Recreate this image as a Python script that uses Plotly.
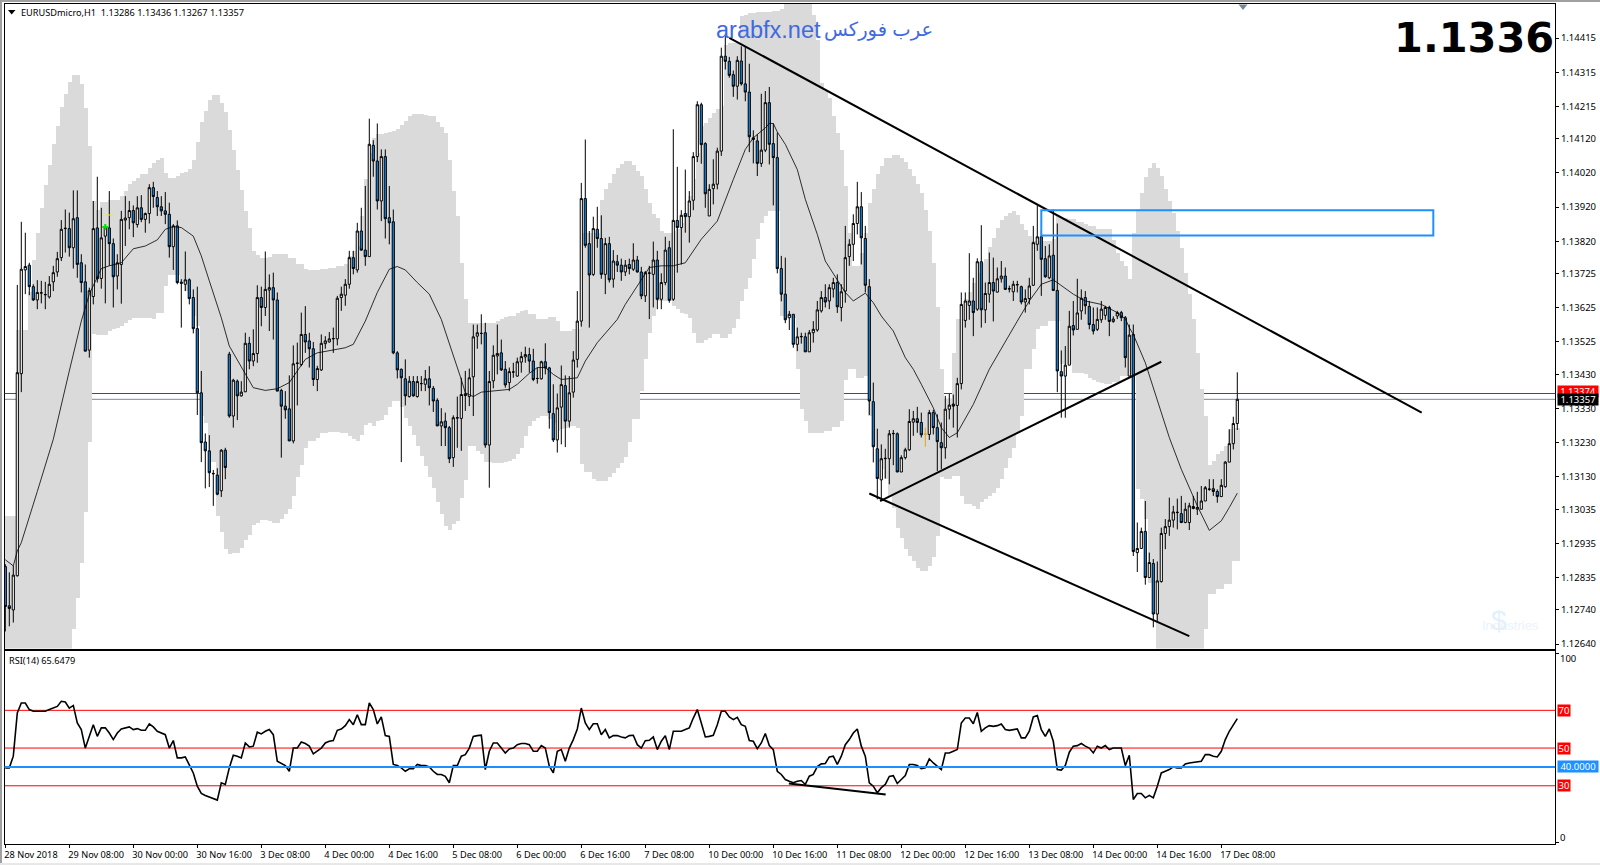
import plotly.graph_objects as go

W, H = 1600, 867

# ---- price data, in 1e-5 price points, one entry per hourly bar ----
opens = [
112867,112752,112740,112840,113432,113736,113750,113687,113648,113668,
113663,113657,113701,113730,113772,113857,113857,113801,113889,113757,
113701,113501,113658,113859,113711,113835,113859,113813,113718,113752,
113882,113889,113910,113869,113918,113884,113901,113977,113948,113921,
113909,113899,113804,113865,113700,113694,113707,113655,113564,113376,
113232,113206,113140,113135,113089,113208,113489,113308,113410,113367,
113379,113521,113469,113491,113655,113626,113677,113684,113648,113383,
113337,113329,113235,113462,113459,113547,113528,113505,113415,113443,
113520,113525,113534,113534,113655,113662,113694,113772,113736,113850,
113794,113775,114101,114055,113938,114068,113889,113877,113493,113445,
113417,113365,113409,113365,113403,113401,113417,113389,113354,113279,
113293,113274,113186,113302,113301,113373,113365,113423,113542,113550,
113552,113223,113411,113484,113493,113445,113406,113437,113425,113466,
113481,113488,113469,113418,113417,113467,113449,113315,113238,113334,
113397,113293,113378,113474,113586,113945,113813,113723,113855,113828,
113723,113813,113709,113760,113750,113730,113752,113738,113765,113730,
113660,113726,113723,113765,113650,113699,113801,113650,113881,113860,
113901,113892,113940,114068,114220,114106,113894,113974,113987,114084,
114362,114347,114308,114274,114348,114281,114257,114123,114114,114048,
114087,114226,114106,114065,113740,113665,113596,113606,113518,113540,
113540,113496,113552,113560,113616,113655,113645,113680,113699,113626,
113674,113775,113811,113872,113921,113828,113687,113350,113212,113121,
113183,113183,113256,113256,113144,113186,113209,113290,113300,113289,
113254,113254,113318,113274,113230,113215,113328,113343,113339,113403,
113588,113632,113645,113621,113760,113619,113665,113699,113671,113710,
113718,113680,113672,113692,113687,113642,113652,113691,113811,113833,
113769,113713,113779,113676,113438,113425,113457,113573,113562,113616,
113655,113629,113576,113562,113590,113603,113626,113585,113601,113611,
113596,113425,113547,112908,112920,112970,112835,112876,112728,112823,
112964,112984,113003,113025,113022,112996,112996,113043,113035,113035,
113059,113093,113095,113087,113072,113101,113173,113227,113286]
closes = [
112750,112744,112842,113435,113738,113746,113687,113648,113670,113669,
113664,113694,113728,113769,113855,113858,113801,113886,113752,113699,
113498,113675,113857,113710,113830,113859,113813,113716,113757,113884,
113888,113910,113874,113918,113884,113901,113977,113951,113921,113909,
113899,113804,113865,113699,113697,113707,113652,113564,113376,113230,
113206,113142,113139,113079,113208,113157,113308,113413,113367,113378,
113521,113469,113491,113655,113626,113679,113684,113648,113381,113337,
113326,113235,113461,113463,113547,113525,113505,113415,113447,113521,
113528,113534,113535,113653,113665,113694,113772,113740,113850,113794,
113775,114104,114055,113938,114068,113886,113874,113493,113443,113420,
113367,113410,113367,113409,113403,113417,113391,113352,113279,113291,
113274,113183,113303,113303,113371,113368,113420,113540,113552,113550,
113223,113409,113486,113491,113443,113399,113438,113437,113467,113482,
113488,113469,113415,113418,113467,113449,113318,113238,113332,113400,
113293,113376,113472,113586,113945,113808,113721,113857,113828,113723,
113813,113707,113762,113750,113730,113750,113740,113765,113730,113660,
113728,113727,113765,113650,113699,113794,113647,113881,113860,113896,
113892,113938,114068,114220,114103,113959,113972,113987,114084,114362,
114347,114306,114274,114350,114281,114257,114126,114118,114048,114087,
114226,114104,114065,113740,113665,113590,113606,113518,113540,113541,
113496,113552,113562,113619,113655,113642,113684,113699,113628,113672,
113772,113811,113872,113921,113830,113691,113352,113218,113125,113183,
113184,113256,113257,113144,113186,113209,113292,113300,113289,113253,
113255,113318,113274,113233,113215,113328,113340,113337,113403,113635,
113645,113645,113611,113760,113619,113667,113699,113674,113710,113718,
113679,113681,113694,113693,113642,113652,113689,113816,113833,113767,
113716,113777,113676,113440,113425,113457,113571,113560,113610,113653,
113631,113576,113557,113591,113621,113626,113585,113592,113611,113596,
113479,113545,112911,112920,112970,112835,112879,112728,112825,112964,
112984,113003,113027,113026,112996,113035,113045,113037,113040,113059,
113098,113094,113087,113072,113105,113173,113227,113286,113357]
highs = [
112874,112850,112869,113692,113877,113845,113757,113694,113706,113704,
113701,113718,113748,113789,113882,113913,113904,113969,113969,113782,
113752,113684,113938,114009,113918,113865,113967,113828,113782,113909,
113952,113938,113925,113952,113955,113904,113987,113994,113967,113952,
113964,113933,113870,113881,113709,113790,113711,113679,113687,113440,
113257,113252,113150,113155,113211,113215,113496,113417,113415,113410,
113552,113540,113562,113691,113687,113790,113723,113728,113670,113388,
113381,113427,113515,113523,113611,113630,113552,113525,113455,113547,
113542,113554,113567,113660,113687,113709,113792,113792,113874,113918,
113982,114179,114116,114165,114089,114089,113982,113913,113498,113447,
113474,113425,113425,113425,113425,113443,113454,113396,113360,113331,
113318,113279,113310,113365,113420,113440,113447,113576,113576,113606,
113581,113440,113515,113576,113532,113469,113450,113464,113479,113496,
113511,113508,113505,113450,113470,113521,113452,113401,113374,113456,
113427,113425,113498,113674,113991,114118,113850,113892,113921,113896,
113830,113833,113794,113780,113769,113765,113769,113814,113777,113745,
113733,113748,113819,113792,113726,113833,113821,114148,114038,113911,
114030,113967,114081,114230,114226,114110,113987,114060,114094,114387,
114423,114360,114320,114362,114391,114391,114340,114145,114133,114252,
114260,114272,114165,114138,113777,113772,113616,113606,113567,113552,
113552,113560,113586,113645,113674,113694,113694,113713,113723,113694,
113865,113826,113899,113994,113964,113865,113709,113406,113271,113225,
113212,113267,113267,113260,113193,113215,113328,113323,113335,113318,
113274,113326,113326,113313,113289,113367,113373,113371,113420,113670,
113670,113785,113713,113770,113867,113699,113787,113772,113743,113762,
113743,113690,113704,113704,113690,113679,113713,113865,113925,113850,
113806,113811,113913,113872,113500,113513,113616,113645,113710,113679,
113674,113645,113626,113626,113645,113631,113631,113600,113616,113616,
113601,113576,113576,112996,112981,113059,112908,112889,112882,112981,
113006,113069,113045,113066,113074,113054,113054,113074,113086,113103,
113103,113123,113123,113093,113123,113176,113269,113306,113436]
lows = [
112677,112692,112703,112838,113378,113665,113662,113645,113621,113638,
113621,113652,113674,113716,113762,113787,113775,113740,113713,113670,
113498,113479,113635,113699,113681,113638,113748,113626,113679,113637,
113806,113855,113832,113860,113876,113845,113872,113918,113894,113894,
113870,113772,113736,113694,113567,113674,113635,113550,113311,113173,
113096,113100,113045,113076,113071,113123,113303,113274,113296,113365,
113378,113445,113454,113464,113571,113601,113557,113532,113381,113186,
113300,113235,113228,113339,113454,113493,113450,113396,113381,113440,
113505,113523,113493,113515,113616,113631,113681,113723,113728,113792,
113748,113775,114009,113913,113879,113828,113811,113489,113418,113173,
113339,113362,113365,113362,113381,113381,113339,113320,113279,113220,
113220,113170,113159,113215,113206,113323,113337,113308,113505,113518,
113215,113098,113389,113430,113440,113391,113381,113420,113423,113435,
113464,113435,113410,113403,113415,113430,113271,113232,113201,113225,
113217,113274,113362,113450,113570,113801,113567,113718,113801,113710,
113665,113699,113684,113730,113704,113718,113723,113733,113728,113650,
113642,113592,113626,113621,113621,113691,113640,113645,113728,113752,
113845,113816,113911,114052,114047,113918,113894,113928,113972,114070,
114323,114299,114243,114235,114276,114230,114081,114048,114011,114038,
114081,114045,113925,113726,113644,113580,113560,113508,113498,113520,
113496,113496,113523,113555,113611,113626,113621,113655,113610,113585,
113640,113748,113762,113840,113752,113670,113311,113172,113064,113059,
113125,113108,113164,113144,113144,113181,113206,113250,113259,113245,
113218,113238,113254,113147,113152,113183,113298,113274,113245,113386,
113567,113590,113542,113616,113567,113580,113640,113585,113670,113699,
113677,113670,113645,113670,113635,113611,113635,113689,113792,113660,
113713,113709,113674,113378,113303,113303,113457,113544,113562,113590,
113606,113562,113547,113557,113581,113590,113542,113581,113592,113586,
113450,113425,112898,112851,112920,112814,112835,112689,112708,112820,
112918,112957,112981,112976,112994,112994,112974,113035,113018,113035,
113059,113089,113074,113054,113072,113098,113173,113210,113267]

# grey envelope, one entry per bar
band_upper = [
113015,113015,113015,113559,113559,113559,113670,113764,113845,113918,
113985,114043,114104,114157,114213,114252,114286,114306,114306,114282,
114211,114099,113938,113911,113936,113936,113940,113940,113940,113952,
113967,113989,113996,114006,114016,114016,114035,114050,114057,114063,
114021,114004,114004,114011,114019,114024,114032,114057,114110,114170,
114201,114233,114247,114247,114226,114199,114146,114087,114030,113970,
113908,113858,113790,113780,113772,113772,113774,113784,113784,113782,
113782,113772,113772,113752,113752,113738,113735,113735,113735,113738,
113738,113742,113742,113748,113748,113752,113777,113792,113806,113894,
114001,114079,114123,114135,114135,114138,114141,114143,114148,114162,
114172,114187,114193,114193,114194,114191,114187,114187,114169,114155,
114138,114057,113967,113894,113755,113650,113581,113581,113581,113581,
113581,113581,113581,113585,113593,113597,113601,113601,113611,113616,
113618,113606,113606,113593,113593,113593,113599,113599,113586,113557,
113557,113557,113562,113562,113845,113845,113845,113845,113845,113940,
113974,113991,114016,114035,114045,114055,114055,114043,114026,114011,
113972,113931,113899,113889,113850,113845,113845,113850,113855,113874,
113904,113952,114001,114079,114157,114167,114182,114196,114206,114216,
114396,114401,114401,114401,114479,114484,114489,114489,114491,114491,
114493,114493,114494,114494,114499,114516,114516,114516,114516,114516,
114516,114516,114484,114411,114284,114260,114240,114187,114138,114087,
113982,113845,113748,113748,113787,113845,113931,113972,114016,114040,
114063,114063,114072,114072,114065,114053,114033,114011,113987,113962,
113913,113850,113757,113626,113445,113357,113357,113493,113591,113591,
113650,113670,113699,113728,113757,113767,113804,113831,113860,113882,
113894,113904,113909,113896,113872,113853,113835,113821,113821,113821,
113821,113821,113826,113894,113889,113889,113884,113884,113876,113876,
113870,113865,113865,113857,113857,113857,113857,113824,113787,113762,
113748,113709,113845,113915,113960,114009,114035,114048,114035,114011,
113972,113938,113904,113850,113801,113728,113665,113591,113493,113388,
113308,113164,113176,113196,113206,113220,113269,113274,113274]
band_lower = [
112600,112600,112600,112600,112600,112600,112600,112600,112600,112600,
112600,112600,112600,112600,112600,112600,112600,112684,112776,112877,
113027,113232,113547,113545,113545,113545,113557,113562,113567,113573,
113581,113588,113596,113596,113596,113596,113596,113593,113609,113609,
113689,113720,113720,113720,113699,113674,113655,113601,113571,113308,
113287,113172,113172,113015,112967,112918,112903,112908,112908,112920,
112945,112959,112988,112996,113003,113003,113001,112996,112996,113006,
113020,113035,113074,113128,113164,113215,113235,113235,113245,113257,
113257,113262,113262,113262,113257,113257,113250,113242,113235,113253,
113281,113289,113279,113293,113295,113311,113335,113352,113352,113335,
113303,113279,113252,113220,113191,113162,113128,113098,113056,113020,
112986,112974,112991,113001,113069,113121,113220,113220,113206,113196,
113173,113172,113170,113170,113170,113172,113176,113181,113196,113215,
113250,113279,113293,113303,113308,113308,113298,113289,113264,113269,
113274,113279,113279,113274,113167,113145,113145,113125,113118,113118,
113118,113128,113142,113157,113170,113189,113232,113300,113300,113381,
113474,113550,113601,113645,113645,113645,113645,113631,113621,113611,
113606,113596,113552,113523,113521,113532,113537,113547,113547,113537,
113537,113547,113567,113591,113645,113679,113713,113767,113826,113874,
113894,113909,113909,113909,113601,113596,113596,113596,113445,113328,
113293,113259,113259,113259,113259,113264,113264,113277,113277,113293,
113415,113445,113445,113420,113420,113425,113308,113220,113172,113152,
113123,113074,113040,112981,112952,112918,112898,112884,112864,112853,
112853,112869,112896,112957,113128,113123,113123,113132,113132,113074,
113050,113050,113045,113037,113056,113066,113074,113082,113098,113123,
113157,113186,113215,113259,113308,113445,113445,113503,113562,113571,
113571,113586,113586,113586,113459,113459,113459,113435,113435,113435,
113430,113420,113415,113408,113406,113403,113403,113408,113408,113425,
113425,113430,113430,113094,113064,113006,112820,112820,112600,112600,
112600,112600,112600,112600,112600,112600,112600,112600,112600,112600,
112684,112786,112786,112801,112801,112815,112815,112884,112884]

# thin moving average, read at the bars listed
ma_bars = [0,2,3,4,8,12,16,19,21,24,26,29,32,35,38,40,42,44,47,49,51,54,56,59,62,65,68,71,75,78,82,85,87,90,93,96,98,100,103,
106,109,110,112,114,115,117,119,122,126,128,131,133,135,137,139,143,145,148,151,153,155,158,161,164,167,170,172,174,178,180,182,185,187,190,191,192,193,195,198,200,203,205,208,
210,212,215,217,219,220,222,225,227,229,232,234,236,238,242,246,250,253,256,259,262,264,267,270,274,278,280,281,282,285,288,291,294,298,301,304,306,308]
ma_values = [112887,112869,112913,112937,113087,113240,113440,113586,113665,113740,113748,113757,113798,113806,113824,113855,113863,113860,113835,113777,113704,113596,113513,113450,113391,113383,113388,113406,113474,113493,113501,113508,113518,113586,113670,113738,113746,113736,113699,
113665,113591,113557,113489,113415,113376,113365,113378,113381,113386,113401,113433,113450,113450,113430,113415,113420,113469,113523,113562,113591,113635,113689,113743,113748,113748,113757,113791,113826,113879,113943,114001,114089,114123,114152,114165,114165,114140,114104,114030,113943,113840,113762,113709,
113670,113645,113668,113640,113601,113586,113557,113479,113445,113401,113332,113274,113245,113259,113342,113445,113528,113586,113645,113694,113707,113691,113665,113645,113635,113611,113593,113567,113547,113464,113352,113245,113152,113045,112973,113001,113040,113082]

# RSI(14), one entry per bar
rsi_values = [
39.5,39.5,45.7,68.6,73.9,73.9,70.4,69.5,69.5,69.5,
69.5,70.4,71.2,72.1,74.8,74.4,71.2,72.6,63.3,59.8,
50.0,56.2,62.4,56.2,60.7,60.7,58.0,54.5,58.0,60.1,
60.7,61.2,59.8,60.3,59.4,59.4,62.8,61.2,58.9,58.0,
57.1,50.0,54.0,44.8,44.8,45.3,41.3,36.8,29.8,25.9,
24.9,24.1,23.3,22.4,31.6,30.7,39.5,46.2,45.7,44.8,
52.7,50.6,51.0,58.4,57.5,58.9,59.8,57.1,43.0,41.8,
40.7,37.7,50.0,50.0,53.2,52.4,51.0,46.9,48.7,50.0,
52.7,53.6,54.0,59.4,60.1,61.9,65.1,62.4,67.7,62.4,
62.4,73.9,70.4,62.8,66.5,56.6,56.2,41.3,40.7,39.5,
37.7,39.0,39.0,41.3,40.7,40.7,40.0,37.7,36.0,36.0,
35.0,31.6,40.7,40.7,45.7,46.5,50.0,56.2,56.6,56.8,
38.6,48.3,52.7,52.7,50.0,47.4,49.5,50.0,51.8,52.4,
52.4,51.8,48.3,48.3,51.3,50.0,40.4,36.8,48.3,49.2,
43.0,50.0,54.5,60.1,71.2,63.3,59.8,62.9,62.9,57.1,
59.8,55.4,56.6,56.6,55.9,55.4,56.6,56.8,51.8,50.0,
53.9,54.1,55.9,49.2,53.6,56.6,49.2,58.9,58.9,58.9,
59.8,60.7,65.9,70.4,63.3,55.9,56.2,56.8,62.4,69.5,
69.5,66.5,65.1,66.3,62.4,61.5,54.0,53.6,49.7,52.7,
57.7,51.3,49.2,37.7,36.0,33.3,32.4,31.6,32.4,32.8,
30.7,35.1,36.0,40.2,41.6,41.8,45.3,45.7,41.3,45.7,
51.8,54.5,58.0,60.1,51.0,45.7,31.6,29.8,26.3,29.0,
30.7,35.0,35.4,31.2,33.3,35.4,41.3,41.3,40.7,39.1,
39.5,44.3,42.1,40.2,38.6,47.4,47.4,48.3,49.2,63.3,
65.9,65.9,62.9,68.9,58.9,60.7,61.9,61.5,61.9,62.8,
59.8,59.4,59.8,60.1,55.4,55.4,58.9,66.5,67.2,59.8,
56.2,60.1,53.6,38.6,38.3,40.7,47.8,51.0,51.3,52.4,
51.0,50.0,47.4,51.0,50.0,51.3,49.2,50.0,50.0,50.0,
40.7,46.2,22.7,25.9,25.9,23.6,24.9,23.6,29.8,36.8,
37.7,38.6,40.0,39.5,39.5,41.6,42.1,42.5,42.5,43.0,
46.5,46.5,45.7,45.3,48.3,54.5,58.9,62.4,65.6]

# trend lines: [start bar, end bar], [start price, end price]
line_a_bars, line_a_prices = [181, 354.1], [114416, 113318]
line_b_bars, line_b_prices = [216, 296], [113081, 112663]
line_c_bars, line_c_prices = [218.7, 289], [113059, 113467]
rsi_line_bars, rsi_line_values = [195.9, 220.1], [31.2, 25.4]
zone_bars, zone_prices = [259, 357], [113837, 113911]

bid_level, ask_level = 1.13374, 1.13357
rsi_levels_red = [70, 50, 30]
rsi_level_blue = 40

price_ticks = [1.14415,1.14315,1.14215,1.14120,1.14020,1.13920,1.13820,1.13725,1.13625,1.13525,
               1.13430,1.13330,1.13230,1.13130,1.13035,1.12935,1.12835,1.12740,1.12640]
time_labels = ["28 Nov 2018","29 Nov 08:00","30 Nov 00:00","30 Nov 16:00","3 Dec 08:00","4 Dec 00:00",
               "4 Dec 16:00","5 Dec 08:00","6 Dec 00:00","6 Dec 16:00","7 Dec 08:00","10 Dec 00:00",
               "10 Dec 16:00","11 Dec 08:00","12 Dec 00:00","12 Dec 16:00","13 Dec 08:00","14 Dec 00:00",
               "14 Dec 16:00","17 Dec 08:00"]
time_ticks = [16 * k for k in range(len(time_labels))]

# ---- helpers ----
def px(x): return x / W
def py(y): return 1 - y / H
def pr(seq): return [v / 1e5 for v in seq]

FONT = "Noto Sans"
BLUE = "#1E90FF"
bars = list(range(len(opens)))
special = 230  # the one bar drawn in orange

fig = go.Figure()

fig.add_trace(go.Bar(x=bars, base=pr(band_lower),
                     y=[(u - l) / 1e5 for u, l in zip(band_upper, band_lower)],
                     width=1.03, marker=dict(color="#DADADA", line=dict(width=0)),
                     xaxis="x", yaxis="y", showlegend=False, hoverinfo="skip"))

keep = [i for i in bars if i != special]
fig.add_trace(go.Candlestick(
    x=keep, open=pr([opens[i] for i in keep]), high=pr([highs[i] for i in keep]),
    low=pr([lows[i] for i in keep]), close=pr([closes[i] for i in keep]),
    increasing=dict(line=dict(color="black", width=1), fillcolor="white"),
    decreasing=dict(line=dict(color="black", width=1), fillcolor="#1E84DC"),
    whiskerwidth=0, xaxis="x", yaxis="y", showlegend=False))
fig.add_trace(go.Candlestick(
    x=[special], open=pr([opens[special]]), high=pr([highs[special]]),
    low=pr([lows[special]]), close=pr([closes[special]]),
    increasing=dict(line=dict(color="#DAA520", width=1), fillcolor="#DAA520"),
    decreasing=dict(line=dict(color="#DAA520", width=1), fillcolor="#DAA520"),
    whiskerwidth=0, xaxis="x", yaxis="y", showlegend=False))

fig.add_trace(go.Scatter(x=ma_bars, y=pr(ma_values), mode="lines",
                         line=dict(color="black", width=0.8), xaxis="x", yaxis="y", showlegend=False))

for bx, by in [(line_a_bars, line_a_prices), (line_b_bars, line_b_prices), (line_c_bars, line_c_prices)]:
    fig.add_trace(go.Scatter(x=bx, y=pr(by), mode="lines", line=dict(color="black", width=2),
                             xaxis="x", yaxis="y", showlegend=False))

fig.add_trace(go.Scatter(x=[25], y=[1.13862], mode="markers",
                         marker=dict(symbol="cross", size=5, color="#00E000"),
                         xaxis="x", yaxis="y", showlegend=False))
fig.add_trace(go.Scatter(x=[25, 27], y=[1.13897, 1.13897], mode="lines",
                         line=dict(color="#F0E040", width=1), xaxis="x", yaxis="y", showlegend=False))

fig.add_trace(go.Scatter(x=bars, y=rsi_values, mode="lines", line=dict(color="black", width=1.6),
                         xaxis="x2", yaxis="y2", showlegend=False))
fig.add_trace(go.Scatter(x=rsi_line_bars, y=rsi_line_values, mode="lines", line=dict(color="black", width=2),
                         xaxis="x2", yaxis="y2", showlegend=False))

L, R = 4.5, 1555
xr = [(L - 5.3) / 4, (R - 5.3) / 4]
common_x = dict(range=xr, domain=[px(L), px(R)], showgrid=False, zeroline=False,
                showline=True, linecolor="black", linewidth=1, mirror=True)

shapes = [
    dict(type="line", xref="paper", yref="y", x0=px(L), x1=px(R), y0=bid_level, y1=bid_level,
         line=dict(color="#FF0000", width=1), layer="below"),
    dict(type="line", xref="paper", yref="y", x0=px(L), x1=px(R), y0=ask_level, y1=ask_level,
         line=dict(color="#778899", width=1), layer="below"),
    dict(type="rect", xref="x", yref="y", x0=zone_bars[0], x1=zone_bars[1],
         y0=zone_prices[0] / 1e5, y1=zone_prices[1] / 1e5, line=dict(color=BLUE, width=2),
         fillcolor="rgba(0,0,0,0)", layer="above"),
    dict(type="line", xref="paper", yref="y2", x0=px(L), x1=px(R), y0=rsi_level_blue, y1=rsi_level_blue,
         line=dict(color=BLUE, width=2), layer="above"),
    # window edges
    dict(type="rect", xref="paper", yref="paper", x0=0, x1=1, y0=py(2), y1=1,
         fillcolor="#A0A0A0", line=dict(width=0), layer="above"),
    dict(type="rect", xref="paper", yref="paper", x0=0, x1=px(2), y0=0, y1=1,
         fillcolor="#A0A0A0", line=dict(width=0), layer="above"),
    dict(type="rect", xref="paper", yref="paper", x0=0, x1=1, y0=0, y1=py(865),
         fillcolor="#E8E8E8", line=dict(width=0), layer="above"),
    # little triangles
    dict(type="path", xref="paper", yref="paper", layer="above", line=dict(width=0), fillcolor="black",
         path=f"M {px(8)} {py(10)} L {px(15.5)} {py(10)} L {px(11.7)} {py(14.5)} Z"),
    dict(type="path", xref="paper", yref="paper", layer="above", line=dict(width=0), fillcolor="#778899",
         path=f"M {px(1238.5)} {py(4.5)} L {px(1247.5)} {py(4.5)} L {px(1243)} {py(10)} Z"),
]
for lv in rsi_levels_red:
    shapes.append(dict(type="line", xref="paper", yref="y2", x0=px(L), x1=px(R), y0=lv, y1=lv,
                       line=dict(color="#FF0000", width=1), layer="below"))

small = dict(family=FONT, size=9.2, color="black")
axis_font = dict(family=FONT, size=9.5, color="black")
white = dict(family=FONT, size=9.5, color="white")
TAG_X = px(1557)
ann = [
    dict(xref="paper", yref="paper", x=px(18.5), y=py(12.5), text="EURUSDmicro,H1  1.13286 1.13436 1.13267 1.13357",
         xanchor="left", yanchor="middle", showarrow=False, font=small),
    dict(xref="paper", yref="paper", x=px(7), y=py(662), text="RSI(14) 65.6479",
         xanchor="left", yanchor="middle", showarrow=False, font=small),
    dict(xref="paper", yref="paper", x=px(714), y=py(30), text="arabfx.net",
         xanchor="left", yanchor="middle", showarrow=False,
         font=dict(family="Liberation Sans", size=23.5, color="#4169E1")),
    dict(xref="paper", yref="paper", x=px(935), y=py(30), text="عرب فوركس",
         xanchor="right", yanchor="middle", showarrow=False,
         font=dict(family="Liberation Sans, DejaVu Sans", size=19.5, color="#4169E1")),
    dict(xref="paper", yref="paper", x=px(1556), y=py(38), text="<b>1.1336</b>",
         xanchor="right", yanchor="middle", showarrow=False,
         font=dict(family="DejaVu Sans", size=41.5, color="black")),
    dict(xref="paper", yref="paper", x=px(1510), y=py(627), text="Industries",
         xanchor="center", yanchor="middle", showarrow=False,
         font=dict(family="Liberation Sans", size=13, color="#EAF3FC")),
    dict(xref="paper", yref="paper", x=px(1499), y=py(622), text="$",
         xanchor="center", yanchor="middle", showarrow=False,
         font=dict(family="Liberation Sans", size=28, color="#E4F0FB")),
    dict(xref="paper", yref="paper", x=px(1558), y=py(660), text="100", xanchor="left", yanchor="middle",
         showarrow=False, font=axis_font),
    dict(xref="paper", yref="paper", x=px(1558), y=py(839), text="0", xanchor="left", yanchor="middle",
         showarrow=False, font=axis_font),
    dict(xref="paper", yref="y", x=TAG_X, y=bid_level, yshift=2, text="1.13374", xanchor="left", yanchor="middle",
         showarrow=False, font=white, bgcolor="#FF0000", borderpad=0, width=40, height=11, align="center"),
    dict(xref="paper", yref="y", x=TAG_X, y=ask_level, text="1.13357", xanchor="left", yanchor="middle",
         showarrow=False, font=white, bgcolor="black", borderpad=0, width=40, height=11, align="center"),
    dict(xref="paper", yref="y2", x=TAG_X, y=rsi_level_blue, text="40.0000", xanchor="left", yanchor="middle",
         showarrow=False, font=white, bgcolor=BLUE, borderpad=0, width=40, height=11, align="center"),
]
for lv in rsi_levels_red:
    ann.append(dict(xref="paper", yref="y2", x=TAG_X, y=lv, text=str(lv), xanchor="left", yanchor="middle",
                    showarrow=False, font=white, bgcolor="#FF0000", borderpad=0, width=12, height=11, align="center"))

fig.update_layout(
    width=W, height=H, margin=dict(l=0, r=0, t=0, b=0), autosize=False,
    paper_bgcolor="white", plot_bgcolor="white", showlegend=False, hovermode=False,
    boxgap=0.22, bargap=0, barmode="overlay",
    shapes=shapes, annotations=ann,
    xaxis=dict(anchor="y", showticklabels=False, ticks="", rangeslider=dict(visible=False), **common_x),
    xaxis2=dict(anchor="y2", tickmode="array", tickvals=time_ticks, ticktext=time_labels,
                ticks="outside", ticklen=3, tickwidth=1, tickcolor="black",
                ticklabelposition="outside right", ticklabelstandoff=2, ticklabelshift=-2,
                tickfont=small, tickangle=0,
                rangeslider=dict(visible=False), **common_x),
    yaxis=dict(anchor="x", side="right", domain=[py(650), py(4)], range=[1.12627, 1.14515],
               tickmode="array", tickvals=price_ticks, ticktext=[f"{t:.5f}" for t in price_ticks],
               ticks="outside", ticklen=3, tickcolor="black", tickfont=axis_font, showgrid=False, zeroline=False,
               showline=True, linecolor="black", linewidth=1, mirror=True),
    yaxis2=dict(anchor="x2", side="right", domain=[py(846), py(653)], range=[-0.9, 101.2],
                tickmode="array", tickvals=[0, 100], ticktext=["", ""],
                ticks="outside", ticklen=3, tickcolor="black", tickfont=axis_font, showgrid=False, zeroline=False,
                showline=True, linecolor="black", linewidth=1, mirror=True),
)

fig.write_html("out.html", config=dict(displayModeBar=False),
               post_script="document.body.style.margin='0';document.body.style.overflow='hidden';")
